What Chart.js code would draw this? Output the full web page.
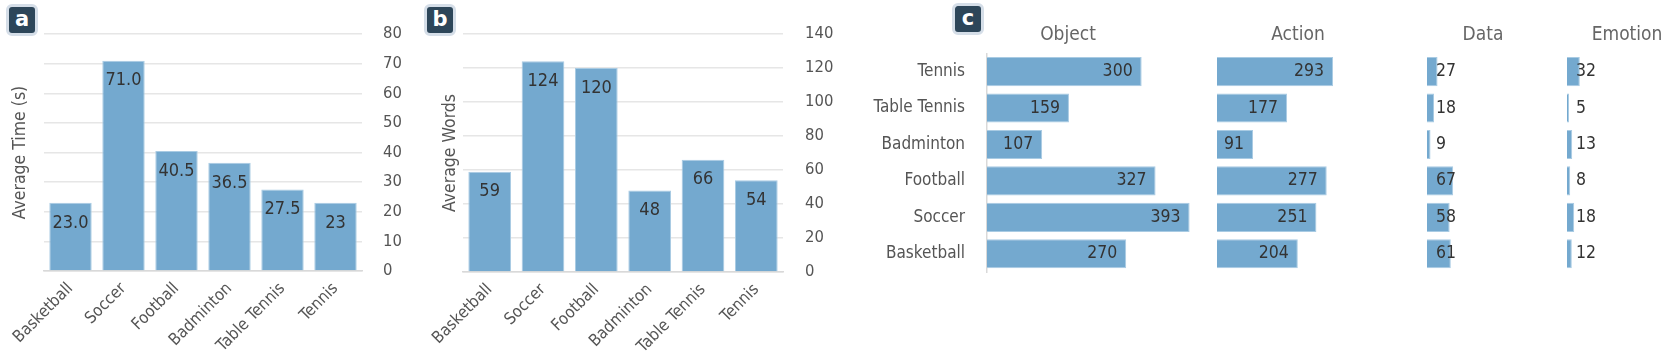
<!DOCTYPE html>
<html>
<head>
<meta charset="utf-8">
<script src="https://cdn.jsdelivr.net/npm/chart.js@4.4.1/dist/chart.umd.min.js"></script>
<style>
  html, body { margin: 0; padding: 0; background: #fff; overflow: hidden; }
  body { position: relative; width: 1661px; height: 360px; }
  .box { position: absolute; top: 0; height: 360px; }
  .badge {
    position: absolute; width: 26px; height: 26px; border: 3px solid #d5dee8; border-radius: 6px;
    background: #2d4659; color: #fff; font: bold 21px 'DejaVu Sans', sans-serif;
    text-align: center; line-height: 24px;
  }
</style>
</head>
<body>
<div class="badge" style="left:6px;top:4px">a</div>
<div class="badge" style="left:424px;top:4px">b</div>
<div class="badge" style="left:952px;top:3px">c</div>

<div class="box" style="left:0;width:420px"><canvas id="time-chart"></canvas></div>
<div class="box" style="left:410px;width:440px"><canvas id="words-chart"></canvas></div>
<div class="box" style="left:850px;width:436px"><canvas id="object-chart"></canvas></div>
<div class="box" style="left:1217px;width:162px"><canvas id="action-chart"></canvas></div>
<div class="box" style="left:1427px;width:112px"><canvas id="data-chart"></canvas></div>
<div class="box" style="left:1567px;width:120px"><canvas id="emotion-chart"></canvas></div>

<script>
// DATA
const sports = ['Basketball', 'Soccer', 'Football', 'Badminton', 'Table Tennis', 'Tennis'];
const avgTime = [23.0, 71.0, 40.5, 36.5, 27.5, 23];
const avgTimeText = ['23.0', '71.0', '40.5', '36.5', '27.5', '23'];
const avgWords = [59, 124, 120, 48, 66, 54];
const objectCounts = [270, 393, 327, 107, 159, 300];
const actionCounts = [204, 251, 277, 91, 177, 293];
const dataCounts = [61, 58, 67, 9, 18, 27];
const emotionCounts = [12, 18, 8, 13, 5, 32];

const FONT = "'DejaVu Sans Condensed', 'DejaVu Sans', sans-serif";
const BAR = '#74a9cf';
const BAR_EDGE = '#a9cbe3';
const AXIS_TEXT = '#555';
const LABEL_TEXT = '#333';

// draws the value labels on the bars
const barLabels = {
    id: 'barLabels',
    afterDatasetsDraw(chart, args, opts) {
        const ctx = chart.ctx;
        const meta = chart.getDatasetMeta(0);
        ctx.save();
        ctx.font = `${opts.size}px ${FONT}`;
        ctx.fillStyle = LABEL_TEXT;
        ctx.textBaseline = 'middle';
        meta.data.forEach((bar, i) => {
            const text = opts.text[i];
            if (opts.mode === 'top') {
                ctx.textAlign = 'center';
                ctx.fillText(text, bar.x, bar.y + opts.offset);
            } else if (opts.mode === 'end') {
                ctx.textAlign = 'right';
                ctx.fillText(text, bar.x - opts.offset, bar.y);
            } else {
                ctx.textAlign = 'left';
                ctx.fillText(text, bar.base + opts.offset, bar.y);
            }
        });
        ctx.restore();
    }
};

function columnChart(id, values, text, title, max, step, sizes) {
    new Chart(document.getElementById(id), {
        type: 'bar',
        data: {
            labels: sports,
            datasets: [{
                data: values,
                backgroundColor: BAR,
                borderColor: BAR_EDGE,
                borderWidth: 1,
                barPercentage: 0.8,
                categoryPercentage: 1
            }]
        },
        options: {
            responsive: true,
            maintainAspectRatio: false,
            animation: false,
            layout: { padding: { top: 34 } },
            plugins: {
                legend: { display: false },
                tooltip: { enabled: false },
                barLabels: { text: text, mode: 'top', offset: 20, size: 18 }
            },
            scales: {
                x: {
                    grid: { display: false, drawTicks: false },
                    border: { color: '#d9d9d9', width: 1.5 },
                    ticks: { color: AXIS_TEXT, font: { family: FONT, size: 16.5 }, minRotation: 45, maxRotation: 45, padding: 8 },
                    afterFit: s => { s.height = sizes.bottom; s.paddingLeft = 0; s.paddingRight = 0; }
                },
                y: {
                    position: 'right',
                    min: 0,
                    max: max,
                    ticks: { stepSize: step, color: AXIS_TEXT, font: { family: FONT, size: 16.5 }, padding: sizes.tickPad },
                    grid: { color: '#e6e6e6', lineWidth: 1.5, drawTicks: false },
                    border: { display: false },
                    afterFit: s => { s.width = sizes.right; }
                },
                yTitle: {
                    type: 'linear',
                    axis: 'y',
                    position: 'left',
                    ticks: { display: false },
                    grid: { display: false, drawTicks: false },
                    border: { display: false },
                    title: { display: true, text: title, color: AXIS_TEXT, font: { family: FONT, size: 17.5 }, padding: { top: sizes.titlePad, bottom: 0 } },
                    afterFit: s => { s.width = sizes.left; }
                }
            }
        },
        plugins: [barLabels]
    });
}

function facetChart(id, values, title, max, mode, withLabels) {
    new Chart(document.getElementById(id), {
        type: 'bar',
        data: {
            labels: sports,
            datasets: [{
                data: values,
                backgroundColor: BAR,
                borderColor: BAR_EDGE,
                borderWidth: 1,
                barPercentage: 0.8,
                categoryPercentage: 1
            }]
        },
        options: {
            indexAxis: 'y',
            responsive: true,
            maintainAspectRatio: false,
            animation: false,
            layout: { padding: { bottom: 88 } },
            plugins: {
                legend: { display: false },
                tooltip: { enabled: false },
                title: { display: true, text: title, color: '#666', font: { family: FONT, size: 19, weight: 'normal' }, padding: { top: 23.6, bottom: 7 } },
                barLabels: { text: values.map(String), mode: mode, offset: 9, size: 17.5 }
            },
            scales: {
                x: { display: false, min: 0, max: max },
                y: withLabels ? {
                    reverse: true,
                    grid: { display: false, drawTicks: false },
                    border: { color: '#d9d9d9', width: 1.5 },
                    ticks: { color: AXIS_TEXT, font: { family: FONT, size: 17 }, padding: 22 },
                    afterFit: s => { s.width = 137; }
                } : { display: false, reverse: true }
            }
        },
        plugins: [barLabels]
    });
}

columnChart('time-chart', avgTime, avgTimeText, 'Average Time (s)', 80, 10,
    { left: 44, right: 58, bottom: 89, tickPad: 21, titlePad: 10 });
columnChart('words-chart', avgWords, avgWords.map(String), 'Average Words', 140, 20,
    { left: 53, right: 67, bottom: 88, tickPad: 22, titlePad: 30 });

facetChart('object-chart', objectCounts, 'Object', 580, 'end', true);
facetChart('action-chart', actionCounts, 'Action', 409, 'end', false);
facetChart('data-chart', dataCounts, 'Data', 287, 'base', false);
facetChart('emotion-chart', emotionCounts, 'Emotion', 300, 'base', false);
</script>
</body>
</html>
